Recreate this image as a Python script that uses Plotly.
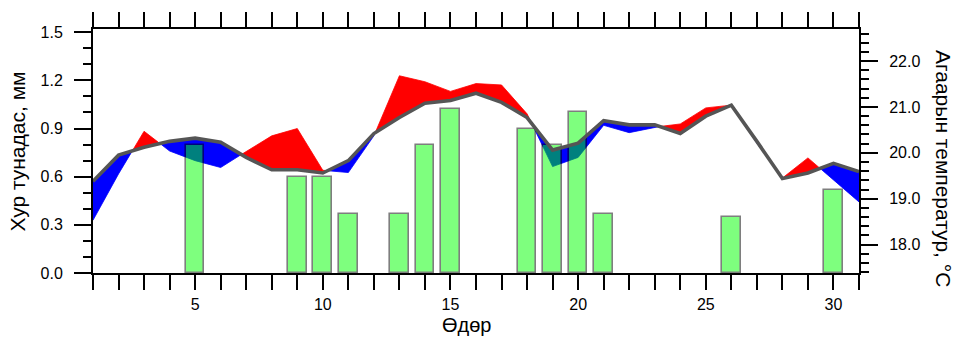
import plotly.graph_objects as go

# Өдөр бүрийн ажиглалт (1-31)
days = list(range(1, 32))

# Хур тунадас, мм (хур ороогүй өдөр = 0)
precip = [0, 0, 0, 0, 0.80, 0, 0, 0, 0.60, 0.60, 0.37, 0, 0.37, 0.80, 1.02,
          0, 0, 0.90, 0.80, 1.00, 0.37, 0, 0, 0, 0, 0.35, 0, 0, 0, 0.52, 0]

# Агаарын бодит температур, °C
temp_actual = [18.53, 19.54, 20.47, 20.04, 19.83, 19.68, 20.03, 20.37, 20.53, 19.62,
               19.57, 20.37, 21.68, 21.55, 21.34, 21.51, 21.48, 20.85, 19.70, 19.90,
               20.60, 20.44, 20.56, 20.63, 20.98, 21.04, 20.21, 19.45, 19.89, 19.41, 18.93]

# Олон жилийн дундаж температур, °C
temp_normal = [19.38, 19.95, 20.12, 20.25, 20.32, 20.23, 19.90, 19.63, 19.63, 19.56,
               19.83, 20.42, 20.77, 21.08, 21.14, 21.30, 21.10, 20.77, 20.06, 20.21,
               20.70, 20.61, 20.61, 20.42, 20.80, 21.04, 20.25, 19.44, 19.56, 19.77, 19.59]

x_ticks = [5, 10, 15, 20, 25, 30]
temp_ticks = [18, 19, 20, 21, 22]

FONT = "Liberation Sans, Arial, Helvetica, sans-serif"
RED = "rgb(255,0,0)"
BLUE = "rgb(0,0,255)"


def anomaly_polygons(xs, act, norm):
    """Split the band between actual and normal into warm / cold polygons."""
    pts = []
    for i in range(len(xs)):
        pts.append((xs[i], act[i], norm[i]))
        if i + 1 < len(xs):
            d0 = act[i] - norm[i]
            d1 = act[i + 1] - norm[i + 1]
            if d0 * d1 < 0:
                t = d0 / (d0 - d1)
                xc = xs[i] + t * (xs[i + 1] - xs[i])
                yc = norm[i] + t * (norm[i + 1] - norm[i])
                pts.append((xc, yc, yc))
    polys = []
    cur = None
    for a, b in zip(pts[:-1], pts[1:]):
        mid = (a[1] + b[1]) / 2 - (a[2] + b[2]) / 2
        sign = 1 if mid > 0 else -1
        if cur is None or cur[0] != sign:
            cur = [sign, [a]]
            polys.append(cur)
        cur[1].append(b)
    return polys


fig = go.Figure()

for sign, seg in anomaly_polygons(days, temp_actual, temp_normal):
    px = [p[0] for p in seg] + [p[0] for p in seg[::-1]]
    py = [p[1] for p in seg] + [p[2] for p in seg[::-1]]
    color = RED if sign > 0 else BLUE
    fig.add_trace(go.Scatter(
        x=px, y=py, mode="lines", fill="toself", fillcolor=color,
        line=dict(width=0.8, color=color), yaxis="y",
        hoverinfo="skip", showlegend=False))

# only the days with precipitation get a bar
rain_days = [d for d, p in zip(days, precip) if p > 0]
rain_vals = [p for p in precip if p > 0]
fig.add_trace(go.Bar(
    x=rain_days, y=rain_vals, width=0.73, yaxis="y2",
    marker=dict(color="rgb(0,255,0)", line=dict(color="black", width=1.6)),
    opacity=0.5, showlegend=False))

fig.add_trace(go.Scatter(
    x=days, y=temp_normal, mode="lines", yaxis="y3",
    line=dict(color="#555555", width=3.6), showlegend=False))

TEMP_RANGE = [17.38, 22.70]

fig.update_layout(
    width=963, height=339,
    margin=dict(l=93, r=104, t=17, b=66),
    paper_bgcolor="white", plot_bgcolor="white",
    font=dict(family=FONT, size=16, color="black"),
    bargap=0,
    xaxis=dict(
        range=[1, 31], tickmode="array", tickvals=x_ticks,
        ticks="outside", ticklen=15, tickwidth=2, tickcolor="black",
        minor=dict(dtick=1, tick0=0, ticks="outside", ticklen=7, tickwidth=1.5, tickcolor="black"),
        showline=True, linewidth=2, linecolor="black", mirror="allticks",
        showgrid=False, zeroline=False, tickfont=dict(size=16),
        ticklabelstandoff=1,
    ),
    yaxis=dict(
        side="right", range=TEMP_RANGE, tickmode="array", tickvals=temp_ticks,
        ticktext=[f"{v:.1f}" for v in temp_ticks],
        ticks="outside", ticklen=17, tickwidth=2, tickcolor="black",
        minor=dict(dtick=0.2, tick0=18, ticks="outside", ticklen=8, tickwidth=1.5, tickcolor="black"),
        showline=True, linewidth=2, linecolor="black",
        showgrid=False, zeroline=False, ticklabelstandoff=8,
    ),
    yaxis2=dict(
        overlaying="y", side="left", range=[0, 1.52],
        tick0=0, dtick=0.3, tickformat=".1f",
        ticks="outside", ticklen=17, tickwidth=2, tickcolor="black",
        minor=dict(dtick=0.1, ticks="outside", ticklen=8, tickwidth=1.5, tickcolor="black"),
        showline=True, linewidth=2, linecolor="black",
        showgrid=False, zeroline=False, ticklabelstandoff=8,
    ),
    yaxis3=dict(overlaying="y", range=TEMP_RANGE, visible=False),
    annotations=[
        dict(text="Хур тунадас, мм", xref="paper", yref="paper",
             x=-0.098, y=0.498, textangle=-90, showarrow=False,
             xanchor="center", yanchor="middle", font=dict(size=21)),
        dict(text="Агаарын температур, °C", xref="paper", yref="paper",
             x=1.111, y=0.43, textangle=90, showarrow=False,
             xanchor="center", yanchor="middle", font=dict(size=21)),
        dict(text="Өдөр", xref="paper", yref="paper",
             x=0.488, y=-0.213, showarrow=False,
             xanchor="center", yanchor="middle", font=dict(size=20)),
    ],
)

fig.write_html("out.html")
